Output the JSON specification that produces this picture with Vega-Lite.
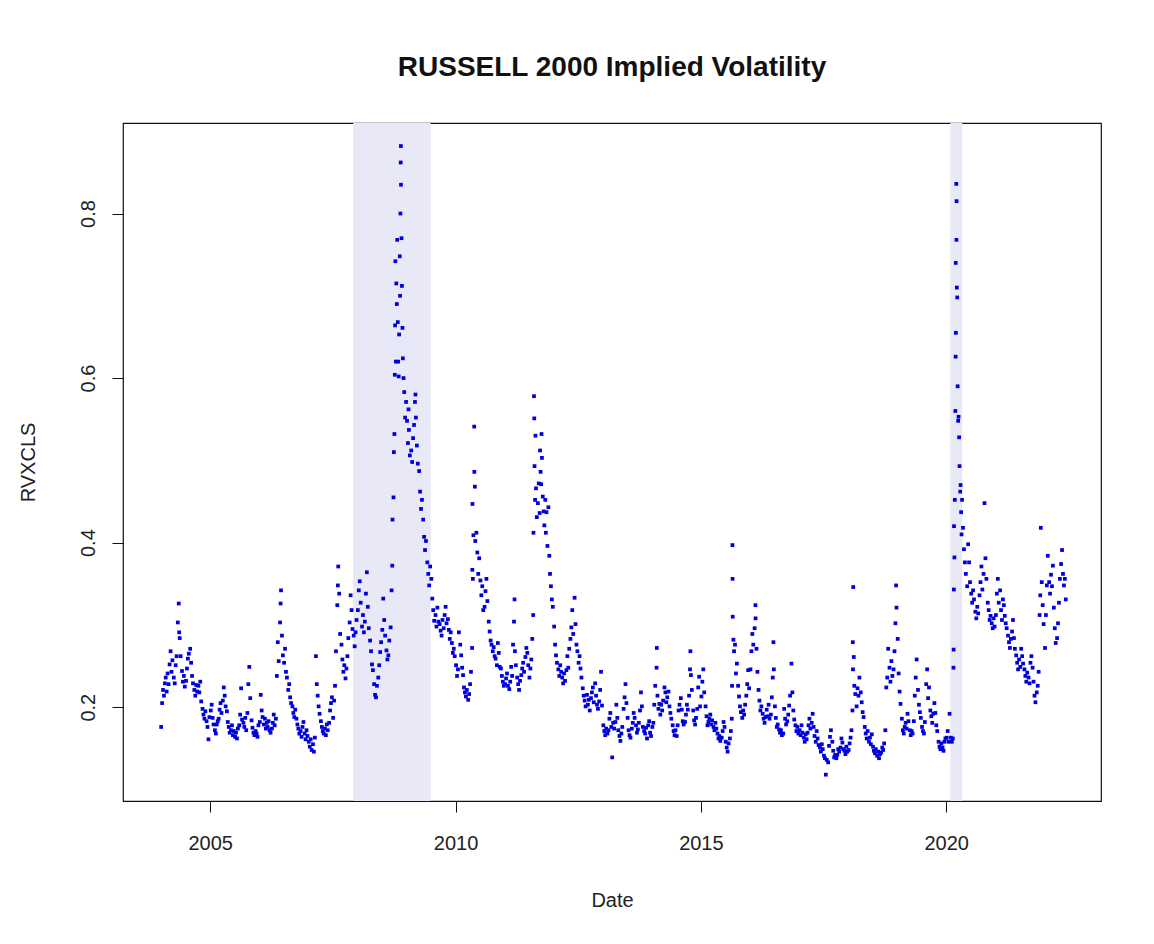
{
"$schema":"https://vega.github.io/schema/vega-lite/v6.json",
"width":978,"height":678,
"autosize":{"type":"none"},
"padding":{"left":123,"top":123,"right":53,"bottom":143},
"background":"white",
"title":{"text":"RUSSELL 2000 Implied Volatility","font":"Liberation Sans","fontSize":28,"fontWeight":"bold","color":"#111","anchor":"middle","baseline":"alphabetic","offset":19},
"config":{"view":{"stroke":"#111","strokeWidth":1.2},"axis":{"grid":false,"domain":false,"ticks":true,"tickSize":11,"tickColor":"#111","tickWidth":1,"labelFont":"Liberation Sans","labelFontSize":20,"labelColor":"#222","titleFont":"Liberation Sans","titleFontSize":20,"titleFontWeight":"normal","titleColor":"#222"}},
"datasets":{
"rec":[{"s":"2007-12-01","e":"2009-06-30"},{"s":"2020-02-01","e":"2020-04-30"}],
"rvx":[
{"d":"2004-01-02","v":0.176},{"d":"2004-01-09","v":0.205},{"d":"2004-01-16","v":0.221},{"d":"2004-01-23","v":0.214},{"d":"2004-01-30","v":0.229},
{"d":"2004-02-05","v":0.236},{"d":"2004-02-12","v":0.219},{"d":"2004-02-19","v":0.241},{"d":"2004-02-26","v":0.228},
{"d":"2004-03-05","v":0.252},{"d":"2004-03-12","v":0.268},{"d":"2004-03-19","v":0.243},{"d":"2004-03-26","v":0.257},
{"d":"2004-04-05","v":0.236},{"d":"2004-04-12","v":0.229},{"d":"2004-04-19","v":0.251},{"d":"2004-04-26","v":0.262},
{"d":"2004-05-05","v":0.303},{"d":"2004-05-12","v":0.326},{"d":"2004-05-15","v":0.291},{"d":"2004-05-19","v":0.284},{"d":"2004-05-26","v":0.262},
{"d":"2004-06-05","v":0.244},{"d":"2004-06-12","v":0.231},{"d":"2004-06-19","v":0.238},{"d":"2004-06-26","v":0.225},
{"d":"2004-07-05","v":0.232},{"d":"2004-07-12","v":0.247},{"d":"2004-07-19","v":0.259},{"d":"2004-07-26","v":0.265},
{"d":"2004-08-05","v":0.271},{"d":"2004-08-12","v":0.254},{"d":"2004-08-19","v":0.238},{"d":"2004-08-26","v":0.229},
{"d":"2004-09-05","v":0.221},{"d":"2004-09-12","v":0.214},{"d":"2004-09-19","v":0.227},{"d":"2004-09-26","v":0.219},
{"d":"2004-10-05","v":0.226},{"d":"2004-10-12","v":0.218},{"d":"2004-10-19","v":0.231},{"d":"2004-10-26","v":0.207},
{"d":"2004-11-05","v":0.198},{"d":"2004-11-12","v":0.191},{"d":"2004-11-19","v":0.186},{"d":"2004-11-26","v":0.195},
{"d":"2004-12-05","v":0.183},{"d":"2004-12-12","v":0.176},{"d":"2004-12-19","v":0.161},{"d":"2004-12-26","v":0.188},
{"d":"2005-01-05","v":0.196},{"d":"2005-01-12","v":0.203},{"d":"2005-01-19","v":0.187},{"d":"2005-01-26","v":0.179},
{"d":"2005-02-05","v":0.172},{"d":"2005-02-12","v":0.168},{"d":"2005-02-19","v":0.179},{"d":"2005-02-26","v":0.183},
{"d":"2005-03-05","v":0.186},{"d":"2005-03-12","v":0.197},{"d":"2005-03-19","v":0.205},{"d":"2005-03-26","v":0.193},
{"d":"2005-04-05","v":0.208},{"d":"2005-04-12","v":0.224},{"d":"2005-04-19","v":0.214},{"d":"2005-04-26","v":0.201},
{"d":"2005-05-05","v":0.195},{"d":"2005-05-12","v":0.182},{"d":"2005-05-19","v":0.176},{"d":"2005-05-26","v":0.169},
{"d":"2005-06-05","v":0.172},{"d":"2005-06-12","v":0.178},{"d":"2005-06-19","v":0.166},{"d":"2005-06-26","v":0.171},
{"d":"2005-07-05","v":0.164},{"d":"2005-07-12","v":0.169},{"d":"2005-07-19","v":0.162},{"d":"2005-07-26","v":0.174},
{"d":"2005-08-05","v":0.178},{"d":"2005-08-12","v":0.191},{"d":"2005-08-19","v":0.223},{"d":"2005-08-26","v":0.185},
{"d":"2005-09-05","v":0.181},{"d":"2005-09-12","v":0.176},{"d":"2005-09-19","v":0.187},{"d":"2005-09-26","v":0.172},
{"d":"2005-10-05","v":0.193},{"d":"2005-10-12","v":0.228},{"d":"2005-10-19","v":0.249},{"d":"2005-10-26","v":0.211},
{"d":"2005-11-05","v":0.184},{"d":"2005-11-12","v":0.175},{"d":"2005-11-19","v":0.169},{"d":"2005-11-26","v":0.166},
{"d":"2005-12-05","v":0.171},{"d":"2005-12-12","v":0.168},{"d":"2005-12-19","v":0.164},{"d":"2005-12-26","v":0.178},
{"d":"2006-01-05","v":0.182},{"d":"2006-01-12","v":0.215},{"d":"2006-01-19","v":0.196},{"d":"2006-01-26","v":0.188},
{"d":"2006-02-05","v":0.179},{"d":"2006-02-12","v":0.186},{"d":"2006-02-19","v":0.174},{"d":"2006-02-26","v":0.181},
{"d":"2006-03-05","v":0.176},{"d":"2006-03-12","v":0.183},{"d":"2006-03-19","v":0.172},{"d":"2006-03-26","v":0.169},
{"d":"2006-04-05","v":0.174},{"d":"2006-04-12","v":0.181},{"d":"2006-04-19","v":0.191},{"d":"2006-04-26","v":0.178},
{"d":"2006-05-05","v":0.186},{"d":"2006-05-12","v":0.238},{"d":"2006-05-19","v":0.279},{"d":"2006-05-26","v":0.256},
{"d":"2006-06-05","v":0.303},{"d":"2006-06-09","v":0.326},{"d":"2006-06-12","v":0.342},{"d":"2006-06-19","v":0.287},{"d":"2006-06-26","v":0.263},
{"d":"2006-07-05","v":0.254},{"d":"2006-07-12","v":0.271},{"d":"2006-07-19","v":0.243},{"d":"2006-07-26","v":0.236},
{"d":"2006-08-05","v":0.221},{"d":"2006-08-12","v":0.228},{"d":"2006-08-19","v":0.212},{"d":"2006-08-26","v":0.205},
{"d":"2006-09-05","v":0.201},{"d":"2006-09-12","v":0.193},{"d":"2006-09-19","v":0.188},{"d":"2006-09-26","v":0.197},
{"d":"2006-10-05","v":0.186},{"d":"2006-10-12","v":0.179},{"d":"2006-10-19","v":0.174},{"d":"2006-10-26","v":0.168},
{"d":"2006-11-05","v":0.171},{"d":"2006-11-12","v":0.164},{"d":"2006-11-19","v":0.176},{"d":"2006-11-26","v":0.182},
{"d":"2006-12-05","v":0.168},{"d":"2006-12-12","v":0.161},{"d":"2006-12-19","v":0.172},{"d":"2006-12-26","v":0.165},
{"d":"2007-01-05","v":0.158},{"d":"2007-01-12","v":0.152},{"d":"2007-01-19","v":0.161},{"d":"2007-01-26","v":0.148},
{"d":"2007-02-05","v":0.155},{"d":"2007-02-12","v":0.146},{"d":"2007-02-19","v":0.163},{"d":"2007-02-27","v":0.262},
{"d":"2007-03-05","v":0.228},{"d":"2007-03-12","v":0.214},{"d":"2007-03-19","v":0.201},{"d":"2007-03-26","v":0.192},
{"d":"2007-04-05","v":0.183},{"d":"2007-04-12","v":0.176},{"d":"2007-04-19","v":0.171},{"d":"2007-04-26","v":0.168},
{"d":"2007-05-05","v":0.174},{"d":"2007-05-12","v":0.166},{"d":"2007-05-19","v":0.179},{"d":"2007-05-26","v":0.172},
{"d":"2007-06-05","v":0.181},{"d":"2007-06-12","v":0.196},{"d":"2007-06-19","v":0.205},{"d":"2007-06-26","v":0.212},
{"d":"2007-07-05","v":0.187},{"d":"2007-07-12","v":0.208},{"d":"2007-07-19","v":0.226},{"d":"2007-07-26","v":0.268},
{"d":"2007-08-05","v":0.324},{"d":"2007-08-09","v":0.348},{"d":"2007-08-12","v":0.371},{"d":"2007-08-19","v":0.338},{"d":"2007-08-26","v":0.289},
{"d":"2007-09-05","v":0.276},{"d":"2007-09-12","v":0.258},{"d":"2007-09-19","v":0.243},{"d":"2007-09-26","v":0.251},
{"d":"2007-10-05","v":0.235},{"d":"2007-10-12","v":0.247},{"d":"2007-10-19","v":0.262},{"d":"2007-10-26","v":0.284},
{"d":"2007-11-05","v":0.303},{"d":"2007-11-12","v":0.336},{"d":"2007-11-19","v":0.318},{"d":"2007-11-26","v":0.295},
{"d":"2007-12-05","v":0.287},{"d":"2007-12-12","v":0.274},{"d":"2007-12-19","v":0.291},{"d":"2007-12-26","v":0.306},
{"d":"2008-01-05","v":0.318},{"d":"2008-01-12","v":0.342},{"d":"2008-01-19","v":0.353},{"d":"2008-01-26","v":0.327},
{"d":"2008-02-05","v":0.298},{"d":"2008-02-12","v":0.312},{"d":"2008-02-19","v":0.291},{"d":"2008-02-26","v":0.304},
{"d":"2008-03-05","v":0.338},{"d":"2008-03-12","v":0.364},{"d":"2008-03-19","v":0.322},{"d":"2008-03-26","v":0.296},
{"d":"2008-04-05","v":0.281},{"d":"2008-04-12","v":0.268},{"d":"2008-04-19","v":0.252},{"d":"2008-04-26","v":0.245},
{"d":"2008-05-05","v":0.228},{"d":"2008-05-12","v":0.215},{"d":"2008-05-19","v":0.212},{"d":"2008-05-26","v":0.226},
{"d":"2008-06-05","v":0.236},{"d":"2008-06-12","v":0.251},{"d":"2008-06-19","v":0.267},{"d":"2008-06-26","v":0.279},
{"d":"2008-07-05","v":0.294},{"d":"2008-07-12","v":0.332},{"d":"2008-07-19","v":0.306},{"d":"2008-07-26","v":0.287},
{"d":"2008-08-05","v":0.269},{"d":"2008-08-12","v":0.258},{"d":"2008-08-19","v":0.263},{"d":"2008-08-26","v":0.281},
{"d":"2008-09-05","v":0.297},{"d":"2008-09-12","v":0.342},{"d":"2008-09-17","v":0.372},{"d":"2008-09-19","v":0.428},{"d":"2008-09-26","v":0.455},{"d":"2008-09-29","v":0.51},
{"d":"2008-10-03","v":0.532},{"d":"2008-10-06","v":0.604},{"d":"2008-10-08","v":0.664},{"d":"2008-10-10","v":0.742},{"d":"2008-10-14","v":0.62},{"d":"2008-10-17","v":0.715},{"d":"2008-10-21","v":0.69},{"d":"2008-10-24","v":0.768},{"d":"2008-10-28","v":0.668},{"d":"2008-10-31","v":0.62},
{"d":"2008-11-04","v":0.602},{"d":"2008-11-07","v":0.653},{"d":"2008-11-12","v":0.748},{"d":"2008-11-14","v":0.7},{"d":"2008-11-17","v":0.8},{"d":"2008-11-19","v":0.862},{"d":"2008-11-20","v":0.882},{"d":"2008-11-21","v":0.835},{"d":"2008-11-25","v":0.77},{"d":"2008-11-28","v":0.712},
{"d":"2008-12-02","v":0.661},{"d":"2008-12-05","v":0.624},{"d":"2008-12-10","v":0.6},{"d":"2008-12-15","v":0.583},{"d":"2008-12-22","v":0.552},{"d":"2008-12-29","v":0.571},
{"d":"2009-01-05","v":0.548},{"d":"2009-01-12","v":0.521},{"d":"2009-01-16","v":0.562},{"d":"2009-01-19","v":0.537},{"d":"2009-01-26","v":0.506},
{"d":"2009-02-05","v":0.512},{"d":"2009-02-12","v":0.498},{"d":"2009-02-19","v":0.527},{"d":"2009-02-26","v":0.543},
{"d":"2009-03-05","v":0.571},{"d":"2009-03-09","v":0.58},{"d":"2009-03-12","v":0.552},{"d":"2009-03-19","v":0.518},{"d":"2009-03-26","v":0.496},
{"d":"2009-04-05","v":0.487},{"d":"2009-04-12","v":0.462},{"d":"2009-04-19","v":0.441},{"d":"2009-04-26","v":0.452},
{"d":"2009-05-05","v":0.428},{"d":"2009-05-12","v":0.407},{"d":"2009-05-19","v":0.391},{"d":"2009-05-26","v":0.402},
{"d":"2009-06-05","v":0.376},{"d":"2009-06-12","v":0.362},{"d":"2009-06-19","v":0.348},{"d":"2009-06-26","v":0.371},
{"d":"2009-07-05","v":0.356},{"d":"2009-07-12","v":0.332},{"d":"2009-07-19","v":0.318},{"d":"2009-07-26","v":0.305},
{"d":"2009-08-05","v":0.312},{"d":"2009-08-12","v":0.298},{"d":"2009-08-19","v":0.321},{"d":"2009-08-26","v":0.304},
{"d":"2009-09-05","v":0.301},{"d":"2009-09-12","v":0.293},{"d":"2009-09-19","v":0.287},{"d":"2009-09-26","v":0.306},
{"d":"2009-10-05","v":0.296},{"d":"2009-10-12","v":0.312},{"d":"2009-10-19","v":0.322},{"d":"2009-10-26","v":0.302},
{"d":"2009-11-05","v":0.307},{"d":"2009-11-12","v":0.294},{"d":"2009-11-19","v":0.283},{"d":"2009-11-26","v":0.291},
{"d":"2009-12-05","v":0.278},{"d":"2009-12-12","v":0.266},{"d":"2009-12-19","v":0.271},{"d":"2009-12-26","v":0.262},
{"d":"2010-01-05","v":0.251},{"d":"2010-01-12","v":0.238},{"d":"2010-01-19","v":0.246},{"d":"2010-01-26","v":0.291},
{"d":"2010-02-05","v":0.276},{"d":"2010-02-12","v":0.263},{"d":"2010-02-19","v":0.248},{"d":"2010-02-26","v":0.239},
{"d":"2010-03-05","v":0.224},{"d":"2010-03-12","v":0.218},{"d":"2010-03-19","v":0.213},{"d":"2010-03-26","v":0.221},
{"d":"2010-04-05","v":0.209},{"d":"2010-04-12","v":0.216},{"d":"2010-04-19","v":0.228},{"d":"2010-04-26","v":0.243},
{"d":"2010-05-04","v":0.272},{"d":"2010-05-06","v":0.367},{"d":"2010-05-07","v":0.447},{"d":"2010-05-10","v":0.356},{"d":"2010-05-14","v":0.409},{"d":"2010-05-20","v":0.541},{"d":"2010-05-21","v":0.486},{"d":"2010-05-25","v":0.468},{"d":"2010-05-28","v":0.402},
{"d":"2010-06-05","v":0.412},{"d":"2010-06-12","v":0.388},{"d":"2010-06-19","v":0.362},{"d":"2010-06-26","v":0.381},
{"d":"2010-07-05","v":0.354},{"d":"2010-07-12","v":0.336},{"d":"2010-07-19","v":0.347},{"d":"2010-07-26","v":0.318},
{"d":"2010-08-05","v":0.322},{"d":"2010-08-12","v":0.341},{"d":"2010-08-19","v":0.356},{"d":"2010-08-26","v":0.329},
{"d":"2010-09-05","v":0.304},{"d":"2010-09-12","v":0.292},{"d":"2010-09-19","v":0.281},{"d":"2010-09-26","v":0.276},
{"d":"2010-10-05","v":0.268},{"d":"2010-10-12","v":0.273},{"d":"2010-10-19","v":0.262},{"d":"2010-10-26","v":0.259},
{"d":"2010-11-05","v":0.251},{"d":"2010-11-12","v":0.278},{"d":"2010-11-19","v":0.266},{"d":"2010-11-26","v":0.249},
{"d":"2010-12-05","v":0.247},{"d":"2010-12-12","v":0.238},{"d":"2010-12-19","v":0.231},{"d":"2010-12-26","v":0.226},
{"d":"2011-01-05","v":0.228},{"d":"2011-01-12","v":0.235},{"d":"2011-01-19","v":0.241},{"d":"2011-01-26","v":0.226},
{"d":"2011-02-05","v":0.222},{"d":"2011-02-12","v":0.231},{"d":"2011-02-19","v":0.249},{"d":"2011-02-26","v":0.238},
{"d":"2011-03-05","v":0.276},{"d":"2011-03-12","v":0.304},{"d":"2011-03-16","v":0.331},{"d":"2011-03-19","v":0.268},{"d":"2011-03-26","v":0.251},
{"d":"2011-04-05","v":0.236},{"d":"2011-04-12","v":0.228},{"d":"2011-04-19","v":0.221},{"d":"2011-04-26","v":0.232},
{"d":"2011-05-05","v":0.239},{"d":"2011-05-12","v":0.247},{"d":"2011-05-19","v":0.254},{"d":"2011-05-26","v":0.243},
{"d":"2011-06-05","v":0.261},{"d":"2011-06-12","v":0.272},{"d":"2011-06-19","v":0.266},{"d":"2011-06-26","v":0.251},
{"d":"2011-07-05","v":0.236},{"d":"2011-07-12","v":0.247},{"d":"2011-07-19","v":0.258},{"d":"2011-07-26","v":0.283},
{"d":"2011-08-02","v":0.312},{"d":"2011-08-04","v":0.412},{"d":"2011-08-08","v":0.578},{"d":"2011-08-10","v":0.551},{"d":"2011-08-12","v":0.493},{"d":"2011-08-16","v":0.452},{"d":"2011-08-19","v":0.53},{"d":"2011-08-23","v":0.466},{"d":"2011-08-29","v":0.431},
{"d":"2011-09-06","v":0.448},{"d":"2011-09-12","v":0.472},{"d":"2011-09-19","v":0.436},{"d":"2011-09-22","v":0.512},{"d":"2011-09-26","v":0.486},{"d":"2011-09-30","v":0.471},
{"d":"2011-10-03","v":0.532},{"d":"2011-10-06","v":0.503},{"d":"2011-10-12","v":0.456},{"d":"2011-10-19","v":0.438},{"d":"2011-10-24","v":0.421},{"d":"2011-10-31","v":0.452},
{"d":"2011-11-04","v":0.412},{"d":"2011-11-09","v":0.437},{"d":"2011-11-16","v":0.396},{"d":"2011-11-23","v":0.443},{"d":"2011-11-30","v":0.384},
{"d":"2011-12-05","v":0.362},{"d":"2011-12-12","v":0.347},{"d":"2011-12-19","v":0.331},{"d":"2011-12-26","v":0.322},
{"d":"2012-01-05","v":0.298},{"d":"2012-01-12","v":0.276},{"d":"2012-01-19","v":0.263},{"d":"2012-01-26","v":0.254},
{"d":"2012-02-05","v":0.246},{"d":"2012-02-12","v":0.238},{"d":"2012-02-19","v":0.251},{"d":"2012-02-26","v":0.243},
{"d":"2012-03-05","v":0.236},{"d":"2012-03-12","v":0.229},{"d":"2012-03-19","v":0.241},{"d":"2012-03-26","v":0.232},
{"d":"2012-04-05","v":0.245},{"d":"2012-04-12","v":0.262},{"d":"2012-04-19","v":0.248},{"d":"2012-04-26","v":0.271},
{"d":"2012-05-05","v":0.283},{"d":"2012-05-12","v":0.297},{"d":"2012-05-19","v":0.318},{"d":"2012-05-26","v":0.289},
{"d":"2012-06-05","v":0.333},{"d":"2012-06-12","v":0.301},{"d":"2012-06-19","v":0.276},{"d":"2012-06-26","v":0.268},
{"d":"2012-07-05","v":0.254},{"d":"2012-07-12","v":0.262},{"d":"2012-07-19","v":0.247},{"d":"2012-07-26","v":0.236},
{"d":"2012-08-05","v":0.223},{"d":"2012-08-12","v":0.214},{"d":"2012-08-19","v":0.208},{"d":"2012-08-26","v":0.201},
{"d":"2012-09-05","v":0.215},{"d":"2012-09-12","v":0.203},{"d":"2012-09-19","v":0.209},{"d":"2012-09-26","v":0.196},
{"d":"2012-10-05","v":0.211},{"d":"2012-10-12","v":0.218},{"d":"2012-10-19","v":0.224},{"d":"2012-10-26","v":0.206},
{"d":"2012-11-05","v":0.229},{"d":"2012-11-12","v":0.214},{"d":"2012-11-19","v":0.203},{"d":"2012-11-26","v":0.198},
{"d":"2012-12-05","v":0.207},{"d":"2012-12-12","v":0.221},{"d":"2012-12-19","v":0.243},{"d":"2012-12-26","v":0.202},
{"d":"2013-01-05","v":0.178},{"d":"2013-01-12","v":0.171},{"d":"2013-01-19","v":0.166},{"d":"2013-01-26","v":0.174},
{"d":"2013-02-05","v":0.168},{"d":"2013-02-12","v":0.172},{"d":"2013-02-19","v":0.186},{"d":"2013-02-26","v":0.193},
{"d":"2013-03-05","v":0.176},{"d":"2013-03-12","v":0.139},{"d":"2013-03-19","v":0.181},{"d":"2013-03-26","v":0.174},
{"d":"2013-04-05","v":0.182},{"d":"2013-04-12","v":0.203},{"d":"2013-04-19","v":0.187},{"d":"2013-04-26","v":0.172},
{"d":"2013-05-05","v":0.165},{"d":"2013-05-12","v":0.159},{"d":"2013-05-19","v":0.168},{"d":"2013-05-26","v":0.176},
{"d":"2013-06-05","v":0.198},{"d":"2013-06-12","v":0.212},{"d":"2013-06-19","v":0.228},{"d":"2013-06-26","v":0.205},
{"d":"2013-07-05","v":0.187},{"d":"2013-07-12","v":0.172},{"d":"2013-07-19","v":0.166},{"d":"2013-07-26","v":0.163},
{"d":"2013-08-05","v":0.174},{"d":"2013-08-12","v":0.181},{"d":"2013-08-19","v":0.193},{"d":"2013-08-26","v":0.187},
{"d":"2013-09-05","v":0.178},{"d":"2013-09-12","v":0.169},{"d":"2013-09-19","v":0.173},{"d":"2013-09-26","v":0.181},
{"d":"2013-10-05","v":0.196},{"d":"2013-10-12","v":0.218},{"d":"2013-10-19","v":0.201},{"d":"2013-10-26","v":0.176},
{"d":"2013-11-05","v":0.171},{"d":"2013-11-12","v":0.168},{"d":"2013-11-19","v":0.175},{"d":"2013-11-26","v":0.162},
{"d":"2013-12-05","v":0.178},{"d":"2013-12-12","v":0.183},{"d":"2013-12-19","v":0.169},{"d":"2013-12-26","v":0.165},
{"d":"2014-01-05","v":0.176},{"d":"2014-01-12","v":0.181},{"d":"2014-01-19","v":0.203},{"d":"2014-01-26","v":0.226},
{"d":"2014-02-05","v":0.248},{"d":"2014-02-07","v":0.272},{"d":"2014-02-12","v":0.214},{"d":"2014-02-19","v":0.198},{"d":"2014-02-26","v":0.204},
{"d":"2014-03-05","v":0.191},{"d":"2014-03-12","v":0.203},{"d":"2014-03-19","v":0.196},{"d":"2014-03-26","v":0.208},
{"d":"2014-04-05","v":0.224},{"d":"2014-04-12","v":0.218},{"d":"2014-04-19","v":0.206},{"d":"2014-04-26","v":0.212},
{"d":"2014-05-05","v":0.219},{"d":"2014-05-12","v":0.201},{"d":"2014-05-19","v":0.193},{"d":"2014-05-26","v":0.186},
{"d":"2014-06-05","v":0.178},{"d":"2014-06-12","v":0.171},{"d":"2014-06-19","v":0.166},{"d":"2014-06-26","v":0.172},
{"d":"2014-07-05","v":0.165},{"d":"2014-07-12","v":0.178},{"d":"2014-07-19","v":0.196},{"d":"2014-07-26","v":0.203},
{"d":"2014-08-05","v":0.211},{"d":"2014-08-12","v":0.197},{"d":"2014-08-19","v":0.183},{"d":"2014-08-26","v":0.179},
{"d":"2014-09-05","v":0.182},{"d":"2014-09-12","v":0.191},{"d":"2014-09-19","v":0.203},{"d":"2014-09-26","v":0.197},
{"d":"2014-10-05","v":0.214},{"d":"2014-10-12","v":0.246},{"d":"2014-10-15","v":0.268},{"d":"2014-10-19","v":0.239},{"d":"2014-10-26","v":0.221},
{"d":"2014-11-05","v":0.196},{"d":"2014-11-12","v":0.184},{"d":"2014-11-19","v":0.179},{"d":"2014-11-26","v":0.187},
{"d":"2014-12-05","v":0.198},{"d":"2014-12-12","v":0.224},{"d":"2014-12-19","v":0.237},{"d":"2014-12-26","v":0.201},
{"d":"2015-01-05","v":0.213},{"d":"2015-01-12","v":0.231},{"d":"2015-01-19","v":0.246},{"d":"2015-01-26","v":0.218},
{"d":"2015-02-05","v":0.201},{"d":"2015-02-12","v":0.189},{"d":"2015-02-19","v":0.178},{"d":"2015-02-26","v":0.182},
{"d":"2015-03-05","v":0.186},{"d":"2015-03-12","v":0.191},{"d":"2015-03-19","v":0.179},{"d":"2015-03-26","v":0.184},
{"d":"2015-04-05","v":0.176},{"d":"2015-04-12","v":0.172},{"d":"2015-04-19","v":0.181},{"d":"2015-04-26","v":0.174},
{"d":"2015-05-05","v":0.168},{"d":"2015-05-12","v":0.162},{"d":"2015-05-19","v":0.165},{"d":"2015-05-26","v":0.159},
{"d":"2015-06-05","v":0.163},{"d":"2015-06-12","v":0.171},{"d":"2015-06-19","v":0.182},{"d":"2015-06-26","v":0.176},
{"d":"2015-07-05","v":0.158},{"d":"2015-07-12","v":0.151},{"d":"2015-07-19","v":0.146},{"d":"2015-07-26","v":0.156},
{"d":"2015-08-05","v":0.162},{"d":"2015-08-12","v":0.171},{"d":"2015-08-19","v":0.186},{"d":"2015-08-21","v":0.226},{"d":"2015-08-24","v":0.397},{"d":"2015-08-25","v":0.356},{"d":"2015-08-26","v":0.31},{"d":"2015-08-31","v":0.282},
{"d":"2015-09-05","v":0.268},{"d":"2015-09-12","v":0.276},{"d":"2015-09-19","v":0.241},{"d":"2015-09-26","v":0.253},
{"d":"2015-10-05","v":0.226},{"d":"2015-10-12","v":0.213},{"d":"2015-10-19","v":0.201},{"d":"2015-10-26","v":0.194},
{"d":"2015-11-05","v":0.187},{"d":"2015-11-12","v":0.196},{"d":"2015-11-19","v":0.191},{"d":"2015-11-26","v":0.203},
{"d":"2015-12-05","v":0.214},{"d":"2015-12-12","v":0.228},{"d":"2015-12-19","v":0.245},{"d":"2015-12-26","v":0.223},
{"d":"2016-01-05","v":0.246},{"d":"2016-01-12","v":0.268},{"d":"2016-01-19","v":0.289},{"d":"2016-01-26","v":0.276},
{"d":"2016-02-05","v":0.296},{"d":"2016-02-11","v":0.324},{"d":"2016-02-12","v":0.308},{"d":"2016-02-19","v":0.271},{"d":"2016-02-26","v":0.243},
{"d":"2016-03-05","v":0.221},{"d":"2016-03-12","v":0.208},{"d":"2016-03-19","v":0.196},{"d":"2016-03-26","v":0.201},
{"d":"2016-04-05","v":0.192},{"d":"2016-04-12","v":0.186},{"d":"2016-04-19","v":0.181},{"d":"2016-04-26","v":0.188},
{"d":"2016-05-05","v":0.197},{"d":"2016-05-12","v":0.189},{"d":"2016-05-19","v":0.203},{"d":"2016-05-26","v":0.186},
{"d":"2016-06-05","v":0.191},{"d":"2016-06-12","v":0.212},{"d":"2016-06-19","v":0.236},{"d":"2016-06-24","v":0.279},{"d":"2016-06-27","v":0.246},
{"d":"2016-07-05","v":0.201},{"d":"2016-07-12","v":0.187},{"d":"2016-07-19","v":0.176},{"d":"2016-07-26","v":0.179},
{"d":"2016-08-05","v":0.173},{"d":"2016-08-12","v":0.169},{"d":"2016-08-19","v":0.172},{"d":"2016-08-26","v":0.166},
{"d":"2016-09-05","v":0.168},{"d":"2016-09-12","v":0.198},{"d":"2016-09-19","v":0.186},{"d":"2016-09-26","v":0.179},
{"d":"2016-10-05","v":0.183},{"d":"2016-10-12","v":0.191},{"d":"2016-10-19","v":0.202},{"d":"2016-10-26","v":0.214},
{"d":"2016-11-05","v":0.253},{"d":"2016-11-12","v":0.218},{"d":"2016-11-19","v":0.196},{"d":"2016-11-26","v":0.185},
{"d":"2016-12-05","v":0.178},{"d":"2016-12-12","v":0.171},{"d":"2016-12-19","v":0.176},{"d":"2016-12-26","v":0.168},
{"d":"2017-01-05","v":0.172},{"d":"2017-01-12","v":0.166},{"d":"2017-01-19","v":0.178},{"d":"2017-01-26","v":0.169},
{"d":"2017-02-05","v":0.163},{"d":"2017-02-12","v":0.158},{"d":"2017-02-19","v":0.167},{"d":"2017-02-26","v":0.161},
{"d":"2017-03-05","v":0.169},{"d":"2017-03-12","v":0.178},{"d":"2017-03-19","v":0.186},{"d":"2017-03-26","v":0.174},
{"d":"2017-04-05","v":0.181},{"d":"2017-04-12","v":0.192},{"d":"2017-04-19","v":0.176},{"d":"2017-04-26","v":0.165},
{"d":"2017-05-05","v":0.158},{"d":"2017-05-12","v":0.171},{"d":"2017-05-19","v":0.162},{"d":"2017-05-26","v":0.154},
{"d":"2017-06-05","v":0.151},{"d":"2017-06-12","v":0.146},{"d":"2017-06-19","v":0.155},{"d":"2017-06-26","v":0.149},
{"d":"2017-07-05","v":0.141},{"d":"2017-07-12","v":0.138},{"d":"2017-07-19","v":0.118},{"d":"2017-07-26","v":0.136},
{"d":"2017-08-05","v":0.133},{"d":"2017-08-12","v":0.153},{"d":"2017-08-19","v":0.164},{"d":"2017-08-26","v":0.172},
{"d":"2017-09-05","v":0.158},{"d":"2017-09-12","v":0.147},{"d":"2017-09-19","v":0.139},{"d":"2017-09-26","v":0.142},
{"d":"2017-10-05","v":0.138},{"d":"2017-10-12","v":0.142},{"d":"2017-10-19","v":0.149},{"d":"2017-10-26","v":0.146},
{"d":"2017-11-05","v":0.151},{"d":"2017-11-12","v":0.162},{"d":"2017-11-19","v":0.157},{"d":"2017-11-26","v":0.149},
{"d":"2017-12-05","v":0.147},{"d":"2017-12-12","v":0.143},{"d":"2017-12-19","v":0.152},{"d":"2017-12-26","v":0.146},
{"d":"2018-01-05","v":0.148},{"d":"2018-01-12","v":0.156},{"d":"2018-01-19","v":0.163},{"d":"2018-01-26","v":0.172},
{"d":"2018-02-02","v":0.196},{"d":"2018-02-05","v":0.279},{"d":"2018-02-06","v":0.246},{"d":"2018-02-08","v":0.346},{"d":"2018-02-12","v":0.261},{"d":"2018-02-16","v":0.226},{"d":"2018-02-23","v":0.216},
{"d":"2018-03-05","v":0.201},{"d":"2018-03-12","v":0.223},{"d":"2018-03-19","v":0.214},{"d":"2018-03-26","v":0.236},
{"d":"2018-04-05","v":0.218},{"d":"2018-04-12","v":0.206},{"d":"2018-04-19","v":0.194},{"d":"2018-04-26","v":0.188},
{"d":"2018-05-05","v":0.176},{"d":"2018-05-12","v":0.168},{"d":"2018-05-19","v":0.162},{"d":"2018-05-26","v":0.171},
{"d":"2018-06-05","v":0.158},{"d":"2018-06-12","v":0.163},{"d":"2018-06-19","v":0.155},{"d":"2018-06-26","v":0.167},
{"d":"2018-07-05","v":0.152},{"d":"2018-07-12","v":0.147},{"d":"2018-07-19","v":0.144},{"d":"2018-07-26","v":0.149},
{"d":"2018-08-05","v":0.141},{"d":"2018-08-12","v":0.146},{"d":"2018-08-19","v":0.138},{"d":"2018-08-26","v":0.143},
{"d":"2018-09-05","v":0.145},{"d":"2018-09-12","v":0.151},{"d":"2018-09-19","v":0.148},{"d":"2018-09-26","v":0.156},
{"d":"2018-10-05","v":0.172},{"d":"2018-10-12","v":0.224},{"d":"2018-10-19","v":0.236},{"d":"2018-10-26","v":0.271},
{"d":"2018-11-05","v":0.248},{"d":"2018-11-12","v":0.231},{"d":"2018-11-19","v":0.256},{"d":"2018-11-26","v":0.238},
{"d":"2018-12-05","v":0.246},{"d":"2018-12-12","v":0.268},{"d":"2018-12-19","v":0.302},{"d":"2018-12-24","v":0.348},{"d":"2018-12-27","v":0.321},
{"d":"2019-01-05","v":0.283},{"d":"2019-01-12","v":0.241},{"d":"2019-01-19","v":0.219},{"d":"2019-01-26","v":0.204},
{"d":"2019-02-05","v":0.186},{"d":"2019-02-12","v":0.172},{"d":"2019-02-19","v":0.168},{"d":"2019-02-26","v":0.176},
{"d":"2019-03-05","v":0.181},{"d":"2019-03-12","v":0.174},{"d":"2019-03-19","v":0.192},{"d":"2019-03-26","v":0.183},
{"d":"2019-04-05","v":0.172},{"d":"2019-04-12","v":0.166},{"d":"2019-04-19","v":0.171},{"d":"2019-04-26","v":0.168},
{"d":"2019-05-05","v":0.183},{"d":"2019-05-12","v":0.214},{"d":"2019-05-19","v":0.236},{"d":"2019-05-26","v":0.258},
{"d":"2019-06-05","v":0.221},{"d":"2019-06-12","v":0.203},{"d":"2019-06-19","v":0.194},{"d":"2019-06-26","v":0.187},
{"d":"2019-07-05","v":0.176},{"d":"2019-07-12","v":0.171},{"d":"2019-07-19","v":0.168},{"d":"2019-07-26","v":0.182},
{"d":"2019-08-05","v":0.228},{"d":"2019-08-12","v":0.246},{"d":"2019-08-19","v":0.211},{"d":"2019-08-26","v":0.224},
{"d":"2019-09-05","v":0.196},{"d":"2019-09-12","v":0.189},{"d":"2019-09-19","v":0.181},{"d":"2019-09-26","v":0.192},
{"d":"2019-10-05","v":0.205},{"d":"2019-10-12","v":0.193},{"d":"2019-10-19","v":0.178},{"d":"2019-10-26","v":0.171},
{"d":"2019-11-05","v":0.158},{"d":"2019-11-12","v":0.152},{"d":"2019-11-19","v":0.149},{"d":"2019-11-26","v":0.156},
{"d":"2019-12-05","v":0.151},{"d":"2019-12-12","v":0.147},{"d":"2019-12-19","v":0.158},{"d":"2019-12-26","v":0.162},
{"d":"2020-01-05","v":0.163},{"d":"2020-01-12","v":0.171},{"d":"2020-01-19","v":0.158},{"d":"2020-01-26","v":0.192},
{"d":"2020-02-05","v":0.163},{"d":"2020-02-12","v":0.158},{"d":"2020-02-19","v":0.162},{"d":"2020-02-24","v":0.248},{"d":"2020-02-25","v":0.27},{"d":"2020-02-27","v":0.343},{"d":"2020-02-28","v":0.42},
{"d":"2020-03-02","v":0.382},{"d":"2020-03-05","v":0.452},{"d":"2020-03-09","v":0.56},{"d":"2020-03-11","v":0.626},{"d":"2020-03-12","v":0.74},{"d":"2020-03-13","v":0.655},{"d":"2020-03-16","v":0.836},{"d":"2020-03-17","v":0.768},{"d":"2020-03-18","v":0.815},{"d":"2020-03-20","v":0.71},{"d":"2020-03-23","v":0.698},{"d":"2020-03-26","v":0.59},{"d":"2020-03-30","v":0.548},
{"d":"2020-04-02","v":0.553},{"d":"2020-04-06","v":0.528},{"d":"2020-04-09","v":0.493},{"d":"2020-04-14","v":0.462},{"d":"2020-04-17","v":0.47},{"d":"2020-04-21","v":0.437},{"d":"2020-04-24","v":0.41},{"d":"2020-04-28","v":0.452},
{"d":"2020-05-05","v":0.418},{"d":"2020-05-12","v":0.392},{"d":"2020-05-19","v":0.376},{"d":"2020-05-26","v":0.362},
{"d":"2020-06-05","v":0.347},{"d":"2020-06-12","v":0.398},{"d":"2020-06-19","v":0.376},{"d":"2020-06-26","v":0.352},
{"d":"2020-07-05","v":0.338},{"d":"2020-07-12","v":0.327},{"d":"2020-07-19","v":0.342},{"d":"2020-07-26","v":0.331},
{"d":"2020-08-05","v":0.316},{"d":"2020-08-12","v":0.308},{"d":"2020-08-19","v":0.322},{"d":"2020-08-26","v":0.314},
{"d":"2020-09-05","v":0.336},{"d":"2020-09-12","v":0.352},{"d":"2020-09-19","v":0.371},{"d":"2020-09-26","v":0.343},
{"d":"2020-10-05","v":0.362},{"d":"2020-10-12","v":0.448},{"d":"2020-10-19","v":0.381},{"d":"2020-10-26","v":0.356},
{"d":"2020-11-05","v":0.327},{"d":"2020-11-12","v":0.318},{"d":"2020-11-19","v":0.306},{"d":"2020-11-26","v":0.311},
{"d":"2020-12-05","v":0.302},{"d":"2020-12-12","v":0.296},{"d":"2020-12-19","v":0.308},{"d":"2020-12-26","v":0.298},
{"d":"2021-01-05","v":0.312},{"d":"2021-01-12","v":0.338},{"d":"2021-01-19","v":0.356},{"d":"2021-01-26","v":0.327},
{"d":"2021-02-05","v":0.342},{"d":"2021-02-12","v":0.318},{"d":"2021-02-19","v":0.306},{"d":"2021-02-26","v":0.331},
{"d":"2021-03-05","v":0.324},{"d":"2021-03-12","v":0.311},{"d":"2021-03-19","v":0.302},{"d":"2021-03-26","v":0.296},
{"d":"2021-04-05","v":0.287},{"d":"2021-04-12","v":0.279},{"d":"2021-04-19","v":0.272},{"d":"2021-04-26","v":0.283},
{"d":"2021-05-05","v":0.292},{"d":"2021-05-12","v":0.306},{"d":"2021-05-19","v":0.284},{"d":"2021-05-26","v":0.271},
{"d":"2021-06-05","v":0.263},{"d":"2021-06-12","v":0.254},{"d":"2021-06-19","v":0.246},{"d":"2021-06-26","v":0.258},
{"d":"2021-07-05","v":0.249},{"d":"2021-07-12","v":0.271},{"d":"2021-07-19","v":0.262},{"d":"2021-07-26","v":0.253},
{"d":"2021-08-05","v":0.246},{"d":"2021-08-12","v":0.238},{"d":"2021-08-19","v":0.231},{"d":"2021-08-26","v":0.242},
{"d":"2021-09-05","v":0.236},{"d":"2021-09-12","v":0.229},{"d":"2021-09-19","v":0.254},{"d":"2021-09-26","v":0.262},
{"d":"2021-10-05","v":0.248},{"d":"2021-10-12","v":0.231},{"d":"2021-10-19","v":0.214},{"d":"2021-10-26","v":0.206},
{"d":"2021-11-05","v":0.218},{"d":"2021-11-12","v":0.226},{"d":"2021-11-19","v":0.243},{"d":"2021-11-26","v":0.312},
{"d":"2021-12-01","v":0.336},{"d":"2021-12-05","v":0.418},{"d":"2021-12-12","v":0.352},{"d":"2021-12-19","v":0.324},{"d":"2021-12-26","v":0.301},
{"d":"2022-01-05","v":0.272},{"d":"2022-01-12","v":0.312},{"d":"2022-01-19","v":0.348},{"d":"2022-01-26","v":0.384},
{"d":"2022-02-05","v":0.352},{"d":"2022-02-12","v":0.338},{"d":"2022-02-19","v":0.361},{"d":"2022-02-26","v":0.347},
{"d":"2022-03-05","v":0.372},{"d":"2022-03-12","v":0.321},{"d":"2022-03-19","v":0.296},{"d":"2022-03-26","v":0.278},
{"d":"2022-04-05","v":0.284},{"d":"2022-04-12","v":0.302},{"d":"2022-04-19","v":0.327},{"d":"2022-04-26","v":0.356},
{"d":"2022-05-05","v":0.374},{"d":"2022-05-12","v":0.391},{"d":"2022-05-19","v":0.362},{"d":"2022-05-26","v":0.348},
{"d":"2022-06-02","v":0.356},{"d":"2022-06-09","v":0.331}
]},
"layer":[
{"data":{"name":"rec"},"mark":{"type":"rect","color":"#e8e8f6"},
 "encoding":{"x":{"field":"s","type":"temporal"},"x2":{"field":"e"}}},
{"data":{"name":"rvx"},"mark":{"type":"square","size":14,"color":"#0000d8","opacity":1},
 "encoding":{
  "x":{"field":"d","type":"temporal","scale":{"domain":[{"year":2003,"month":3,"date":24},{"year":2023,"month":2,"date":26}],"nice":false},
   "axis":{"title":"Date","values":[{"year":2005},{"year":2010},{"year":2015},{"year":2020}],"format":"%Y","labelPadding":21,"labelBaseline":"top","titleX":489,"titleY":99,"titleBaseline":"middle","titleAnchor":null}},
  "y":{"field":"v","type":"quantitative","scale":{"domain":[0.086,0.91],"nice":false,"zero":false},
   "axis":{"title":"RVXCLS","values":[0.2,0.4,0.6,0.8],"format":".1f","labelAngle":-90,"labelAlign":"center","labelBaseline":"bottom","labelPadding":14,"titleX":-95,"titleY":339,"titleAngle":-90,"titleBaseline":"middle"}}
 }}
]
}
